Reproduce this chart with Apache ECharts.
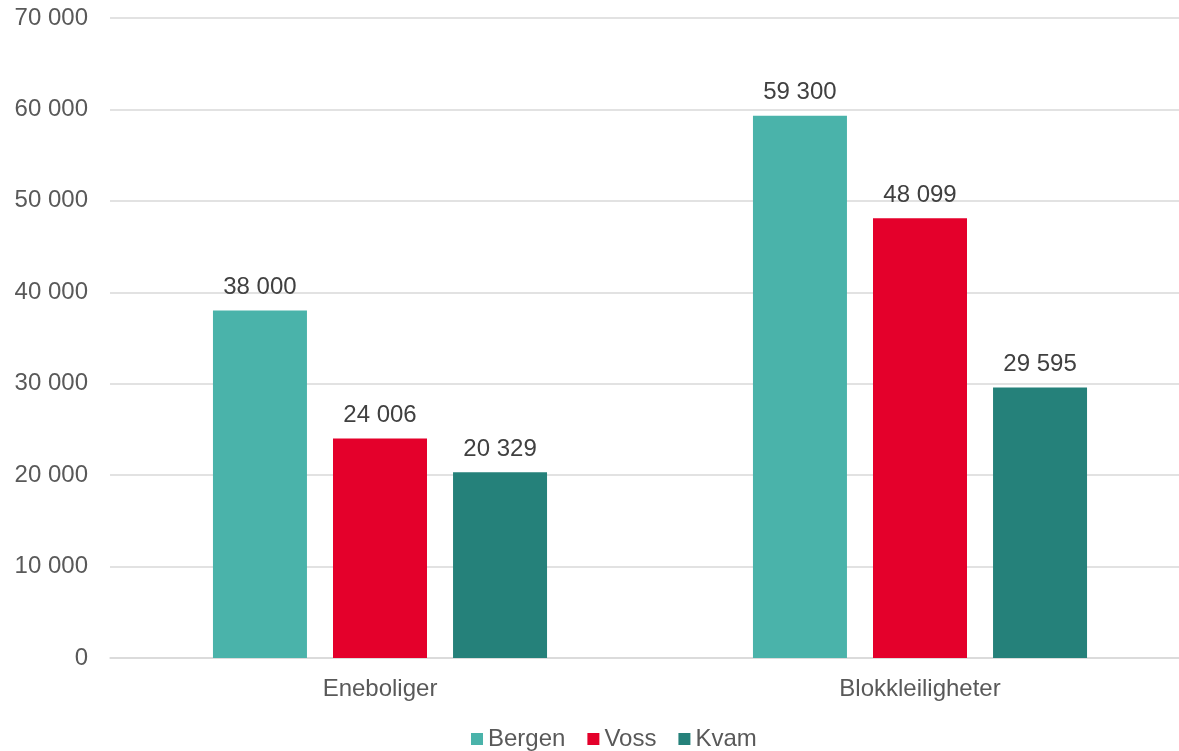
<!DOCTYPE html>
<html>
<head>
<meta charset="utf-8">
<script src="https://cdn.jsdelivr.net/npm/echarts@6/dist/echarts.min.js"></script>
<style>
  html, body { margin: 0; padding: 0; background: #fff; }
  #main { width: 1179px; height: 751px; }
</style>
</head>
<body>
<div id="main"></div>
<script>
var categories = ['Eneboliger', 'Blokkleiligheter'];
var bergen = [38000, 59300];
var voss = [24006, 48099];
var kvam = [20329, 29595];

var chartDom = document.getElementById('main');
var myChart = echarts.init(chartDom);

// tusenskille med mellomrom
function fmt(v) {
    return String(v).replace(/\B(?=(\d{3})+(?!\d))/g, ' ');
}

var labelStyle = {
    show: true,
    position: 'top',
    distance: 11,
    color: '#404040',
    fontSize: 24,
    fontFamily: 'Liberation Sans',
    formatter: function (p) { return fmt(p.value); }
};

var option = {
    animation: false,
    textStyle: { fontFamily: 'Liberation Sans' },
    color: ['#4AB3AA', '#E4002B', '#25817A'],
    grid: {
        left: 110, width: 1080, top: 18, bottom: 93,
        containLabel: false, outerBoundsMode: 'none'
    },
    legend: {
        top: 722,
        left: 466,
        itemWidth: 12,
        itemHeight: 12,
        itemGap: 22,
        icon: 'rect',
        textStyle: { color: '#595959', fontSize: 24 },
        data: ['Bergen', 'Voss', 'Kvam']
    },
    xAxis: {
        type: 'category',
        data: categories,
        axisTick: { show: false },
        axisLine: { lineStyle: { color: '#d9d9d9', width: 1.5 } },
        axisLabel: { color: '#595959', fontSize: 24, margin: 19 }
    },
    yAxis: {
        type: 'value',
        min: 0,
        max: 70000,
        interval: 10000,
        axisLabel: {
            color: '#595959',
            fontSize: 24,
            margin: 22,
            formatter: function (v) { return fmt(v); }
        },
        splitLine: { lineStyle: { color: '#d9d9d9', width: 1.5 } }
    },
    series: [
        { name: 'Bergen', type: 'bar', data: bergen, barWidth: 94, barGap: '27.7%', label: labelStyle },
        { name: 'Voss', type: 'bar', data: voss, barWidth: 94, barGap: '27.7%', label: labelStyle },
        { name: 'Kvam', type: 'bar', data: kvam, barWidth: 94, barGap: '27.7%', label: labelStyle }
    ]
};

option && myChart.setOption(option);
</script>
</body>
</html>
